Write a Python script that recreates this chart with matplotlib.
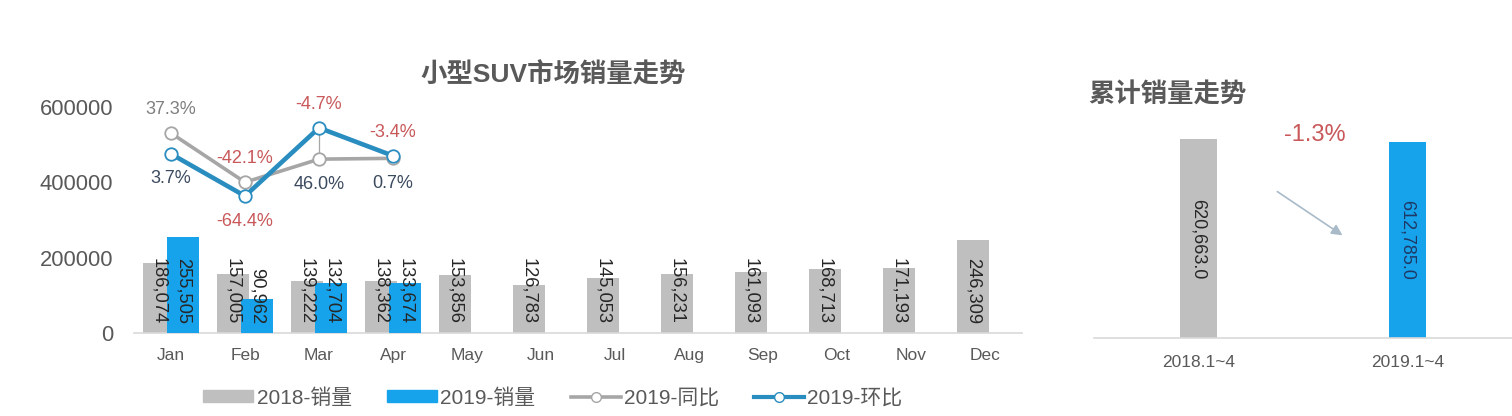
import numpy as np
import matplotlib
matplotlib.use('Agg')
import matplotlib.pyplot as plt
from matplotlib.lines import Line2D
from matplotlib.patches import Patch

# ---------------- data ----------------
months = ['Jan', 'Feb', 'Mar', 'Apr', 'May', 'Jun', 'Jul', 'Aug', 'Sep', 'Oct', 'Nov', 'Dec']
sales_2018 = [186074, 157005, 139222, 138362, 153856, 126783, 145053, 156231, 161093, 168713, 171193, 246309]
sales_2019 = [255505, 90962, 132704, 133674]
yoy_2019 = [37.3, -42.1, -4.7, -3.4]     # 2019-同比 (%)
mom_2019 = [3.7, -64.4, 46.0, 0.7]       # 2019-环比 (%)
yticks_left = [0, 200000, 400000, 600000]
cum_labels = ['2018.1~4', '2019.1~4']
cum_values = [620663.0, 612785.0]
cum_change = -1.3

legend_labels = ['2018-销量', '2019-销量', '2019-同比', '2019-环比']
title_left = '小型SUV市场销量走势'
title_right = '累计销量走势'

# ---------------- style ----------------
GRAY = '#BFBFBF'
BLUE = '#16A3EC'
LGRAY = '#A6A6A6'
LBLUE = '#2A8DC0'
RED = '#C8585A'
TXT = '#595959'
DARK = '#3B4A5E'

plt.rcParams['font.family'] = ['Liberation Sans', 'Noto Sans CJK SC']

W, H = 1512, 416
fig = plt.figure(figsize=(W / 100, H / 100), dpi=100)
fig.patch.set_facecolor('white')

# ---------------- left chart ----------------
ax = fig.add_axes([134 / W, 1 - 333 / H, 888 / W, 245 / H])
x = np.arange(len(months))
x19 = np.arange(len(sales_2019))
off, bw = 0.164, 0.43
ax.bar(x - off, sales_2018, bw, color=GRAY, zorder=2)
ax.bar(x19 + off, sales_2019, bw, color=BLUE, zorder=3)
for xs, vals in ((x - off, sales_2018), (x19 + off, sales_2019)):
    for xi, v in zip(xs, vals):
        ax.annotate(f'{v:,}', (xi, 0), xytext=(0, 6.5), textcoords='offset points',
                    rotation=-90, ha='center', va='bottom', fontsize=13.2,
                    color='#262626', zorder=5)
ax.set_xlim(-0.5, len(months) - 0.5)
ax.set_ylim(0, 650000)
ax.set_xticks(x)
ax.set_xticklabels(months)
ax.set_yticks(yticks_left)
ax.set_yticklabels([str(v) for v in yticks_left])
ax.tick_params(axis='x', length=0, labelsize=12.5, labelcolor=TXT, pad=11)
ax.tick_params(axis='y', length=0, labelsize=15.8, labelcolor=TXT, pad=15)
for s in ('top', 'right', 'left'):
    ax.spines[s].set_visible(False)
ax.spines['bottom'].set_color('#D9D9D9')
ax.spines['bottom'].set_linewidth(1.2)

ax2 = ax.twinx()
ax2.set_ylim(-286, 110.4)
ax2.set_yticks([])
for s in ax2.spines.values():
    s.set_visible(False)
# leader lines where the YoY label is pushed above the MoM point
for i in x19:
    if yoy_2019[i] < mom_2019[i]:
        ax2.plot([i, i], [yoy_2019[i], mom_2019[i]], color=LGRAY, lw=0.9, zorder=1)
ax2.plot(x19, yoy_2019, color=LGRAY, lw=2.6, marker='o', ms=9, mfc='white',
         mec=LGRAY, mew=1.3, zorder=3)
ax2.plot(x19, mom_2019, color=LBLUE, lw=3.3, marker='o', ms=9, mfc='white',
         mec=LBLUE, mew=1.3, zorder=4)
for i in x19:
    top = max(yoy_2019[i], mom_2019[i])
    bot = min(yoy_2019[i], mom_2019[i])
    cy = RED if yoy_2019[i] < 0 else '#7F7F7F'
    cm = RED if mom_2019[i] < 0 else DARK
    ax2.annotate(f'{yoy_2019[i]:.1f}%', (i, top), xytext=(0, 17), textcoords='offset points',
                 ha='center', va='center', fontsize=13, color=cy)
    ax2.annotate(f'{mom_2019[i]:.1f}%', (i, bot), xytext=(0, -18), textcoords='offset points',
                 ha='center', va='center', fontsize=13, color=cm)

fig.text(553 / W, 1 - 75 / H, title_left, ha='center', va='center', fontsize=19,
         fontweight='bold', color=TXT)

handles = [Patch(color=GRAY), Patch(color=BLUE),
           Line2D([], [], color=LGRAY, lw=2.6, marker='o', ms=7, mfc='white', mec=LGRAY),
           Line2D([], [], color=LBLUE, lw=3.0, marker='o', ms=7, mfc='white', mec=LBLUE)]
leg = fig.legend(handles, legend_labels, ncol=4, loc='center',
                 bbox_to_anchor=(553 / W, 1 - 398 / H), frameon=False, fontsize=15,
                 handlelength=2.4, handleheight=0.5, handletextpad=0.15, columnspacing=1.7)
for t in leg.get_texts():
    t.set_color(TXT)

# ---------------- right chart ----------------
rax = fig.add_axes([1094 / W, 1 - 338 / H, 418 / W, 256 / H])
xc = np.arange(len(cum_labels))
rax.bar(xc, cum_values, 0.18, color=[GRAY, BLUE])
for xi, v, c in zip(xc, cum_values, ['#262626', '#1F3864']):
    rax.text(xi, v / 2, f'{v:,.1f}', rotation=-90, ha='center', va='center',
             fontsize=13, color=c)
rax.set_xlim(-0.5, len(cum_labels) - 0.5)
rax.set_ylim(0, 800000)
rax.set_xticks(xc)
rax.set_xticklabels(cum_labels)
rax.set_yticks([])
rax.tick_params(axis='x', length=0, labelsize=12.5, labelcolor=TXT, pad=12)
for s in ('top', 'right', 'left'):
    rax.spines[s].set_visible(False)
rax.spines['bottom'].set_color('#D9D9D9')
rax.spines['bottom'].set_linewidth(1.2)
rax.annotate('', xy=(0.600, 0.395), xytext=(0.433, 0.578), xycoords='axes fraction',
             arrowprops=dict(arrowstyle='-|>', color='#A9BAC8', lw=1.2, mutation_scale=16))
rax.text(0.529, 0.793, f'{cum_change:.1f}%', transform=rax.transAxes, ha='center',
         va='center', fontsize=17, color=RED)

fig.text(1088 / W, 1 - 95 / H, title_right, ha='left', va='center', fontsize=19,
         fontweight='bold', color=TXT)

fig.savefig('out.png', dpi=100, facecolor='white')
